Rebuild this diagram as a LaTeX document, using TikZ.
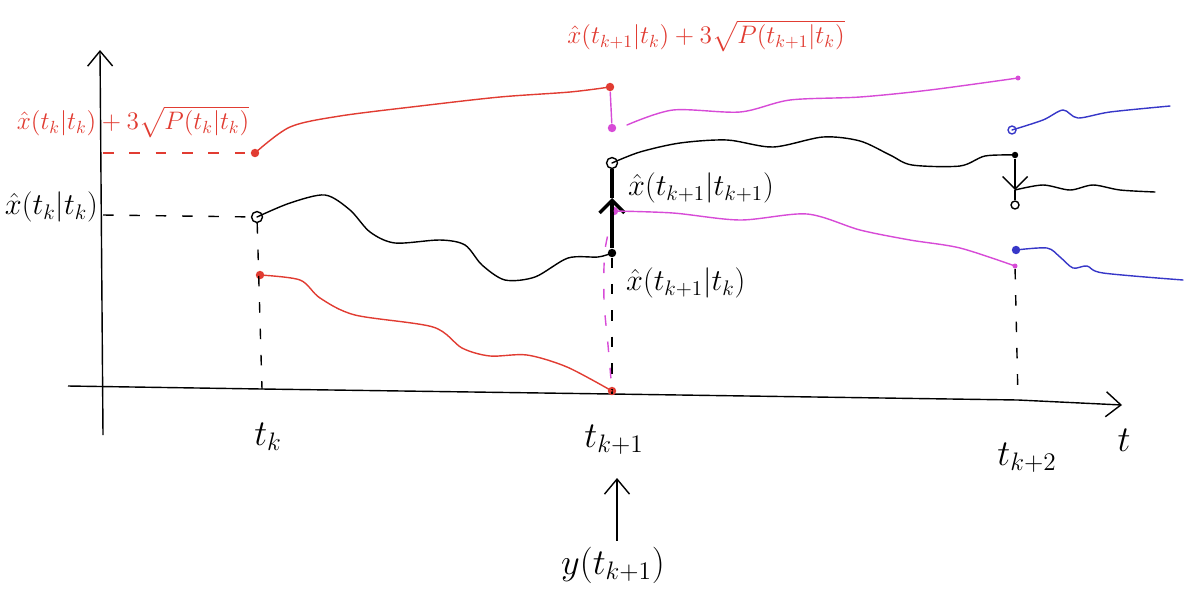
\documentclass[tikz,border=0pt]{standalone}
\usepackage{amsmath}
\usetikzlibrary{arrows.meta, positioning}
\definecolor{sketchred}{RGB}{225,60,50}
\definecolor{sketchmag}{RGB}{215,75,215}
\definecolor{sketchblue}{RGB}{55,55,200}

\begin{document}
\begin{tikzpicture}[
  x=0.02cm, y=-0.02cm,
  axis/.style={-{Straight Barb[length=3mm, width=5mm]}, thick},
  curve/.style={thick, line cap=round},
  guide/.style={thick, dash pattern=on 6pt off 9pt},
  lbl/.style={font=\LARGE, inner sep=1pt},
  redlbl/.style={font=\Large, inner sep=1pt, text=sketchred},
  ticklbl/.style={font=\huge, inner sep=1pt},
  dot/.style={circle, fill, inner sep=1.7pt},
  ring/.style={circle, draw, thick, inner sep=2.2pt},
  update/.style={-{Straight Barb[length=2.5mm, width=5mm]}, line width=2pt}
]
  \useasboundingbox (0,0) rectangle (1192,602);

  % Axes
  \coordinate (yb) at (103,435);
  \coordinate (yt) at (100,50);
  \coordinate (xl) at (68,386);
  \coordinate (xr) at (1122,405);
  \coordinate (ya) at (103,153);
  \coordinate (yx) at (103,215);
  \coordinate (tk) at (262,389);
  \coordinate (tk1) at (612,394);
  \coordinate (tk2) at (1018,400);
  \draw [axis] (yb) -- (yt);
  \draw [axis] (xl) -- (tk) -- (tk1) -- (tk2) -- (xr);

  % Nodes
  \node (Ak)   [dot, sketchred]  at (255,153) {};
  \node (Xk)   [ring]            at (257,217) {};
  \node (Bk)   [dot, sketchred]  at (260,275) {};
  \node (Ak1)  [dot, sketchred]  at (610,87)  {};
  \node (Bk1)  [dot, sketchred]  at (612,391) {};
  \node (Ck1)  [dot, sketchmag]  at (612,128) {};
  \node (Xk1u) [ring]            at (612,163) {};
  \node (Dk1)  [dot, sketchmag]  at (614,211) {};
  \node (Xk1p) [dot]             at (612,253) {};
  \node (Ek2)  [dot, sketchmag, inner sep=1pt] at (1018,78) {};
  \node (Fk2)  [dot, sketchmag, inner sep=1pt] at (1015,266) {};
  \node (Xk2p) [dot, inner sep=1.3pt] at (1015,155) {};
  \node (Xk2u) [ring, inner sep=1.6pt] at (1015,205) {};
  \node (Gk2)  [ring, sketchblue, inner sep=1.6pt] at (1012,130) {};
  \node (Hk2)  [dot, sketchblue] at (1016,250) {};
  \coordinate (ak2) at (1170,106);
  \coordinate (bk2) at (1183,280);
  \coordinate (xk2) at (1155,192);
  \coordinate (xk2m) at (1015,190);
  \coordinate (xk1m) at (612,198);

  % Labels
  \node (Lup)  [redlbl] at (133,122) {$\hat{x}(t_k|t_k)+3\sqrt{P(t_k|t_k)}$};
  \node (Lx)   [lbl, anchor=east] at (100,207) {$\hat{x}(t_k|t_k)$};
  \node (Lup1) [redlbl] at (706,36) {$\hat{x}(t_{k+1}|t_k)+3\sqrt{P(t_{k+1}|t_k)}$};
  \node (Lxu)  [lbl, anchor=west] at (626,188) {$\hat{x}(t_{k+1}|t_{k+1})$};
  \node (Lxp)  [lbl, anchor=west] at (624,283) {$\hat{x}(t_{k+1}|t_k)$};
  \node (Ltk)  [ticklbl] at (268,437) {$t_k$};
  \node (Ltk1) [ticklbl] at (614,440) {$t_{k+1}$};
  \node (Ltk2) [ticklbl] at (1027,458) {$t_{k+2}$};
  \node (Lt)   [ticklbl] at (1124,440) {$t$};
  \node (Ly)   [ticklbl] at (613,565) {$y(t_{k+1})$};
  \coordinate (ytip) at (617,478);
  \draw [axis] (Ly.north -| ytip) ++(0,-4) coordinate (ybase) (ybase) -- (ytip);

  % Guides
  \draw [guide, sketchred] (ya) -- (Ak);
  \draw [guide] (yx) -- (Xk);
  \draw [guide] (Xk) -- (tk);
  \draw [guide] (Xk1p) -- (tk1);
  \draw [guide, sketchmag] plot[smooth] coordinates {(Dk1) (605,250) (604,300) (608,345) (Bk1)};
  \draw [guide] (Fk2) -- (tk2);

  % Trajectories up to t_{k+1}
  \draw [curve, sketchred] plot[smooth] coordinates
    {(Ak) (290,127) (340,116) (420,106) (500,97) (570,92) (Ak1)};
  \draw [curve] plot[smooth] coordinates
    {(Xk) (290,203) (325,195) (350,210) (370,232) (395,243) (440,240)
     (465,245) (482,265) (505,280) (535,277) (568,258) (598,257) (Xk1p)};
  \draw [curve, sketchred] plot[smooth] coordinates
    {(Bk) (300,280) (320,298) (355,315) (433,327) (462,348) (490,356)
     (527,355) (567,367) (Bk1)};

  % Update at t_{k+1}
  \draw [thick, sketchmag] (Ak1) -- (Ck1);
  \draw [update] (Xk1p) -- (xk1m);
  \draw [line width=2pt] (xk1m) -- (Xk1u);

  % Trajectories up to t_{k+2}
  \draw [curve, sketchmag] plot[smooth] coordinates
    {(627,125) (673,110) (740,112) (790,100) (860,97) (930,90) (Ek2)};
  \draw [curve] plot[smooth] coordinates
    {(Xk1u) (640,152) (680,143) (727,140) (773,147) (823,137) (860,141)
     (890,155) (912,165) (960,166) (985,156) (Xk2p)};
  \draw [curve, sketchmag] plot[smooth] coordinates
    {(Dk1) (673,213) (740,220) (807,214) (860,230) (910,240) (960,248) (Fk2)};

  % Update at t_{k+2}
  \draw [update, thick] (Xk2p) -- (xk2m);
  \draw [thick] (xk2m) -- (Xk2u);

  % Trajectories after t_{k+2}
  \draw [curve, sketchblue] plot[smooth] coordinates
    {(Gk2) (1043,120) (1063,110) (1078,118) (1110,112) (ak2)};
  \draw [curve] plot[smooth] coordinates
    {(xk2m) (1043,185) (1070,190) (1093,185) (1120,190) (xk2)};
  \draw [curve, sketchblue] plot[smooth] coordinates
    {(Hk2) (1047,248) (1060,257) (1073,268) (1087,266) (1103,273) (bk2)};

\end{tikzpicture}
\end{document}
